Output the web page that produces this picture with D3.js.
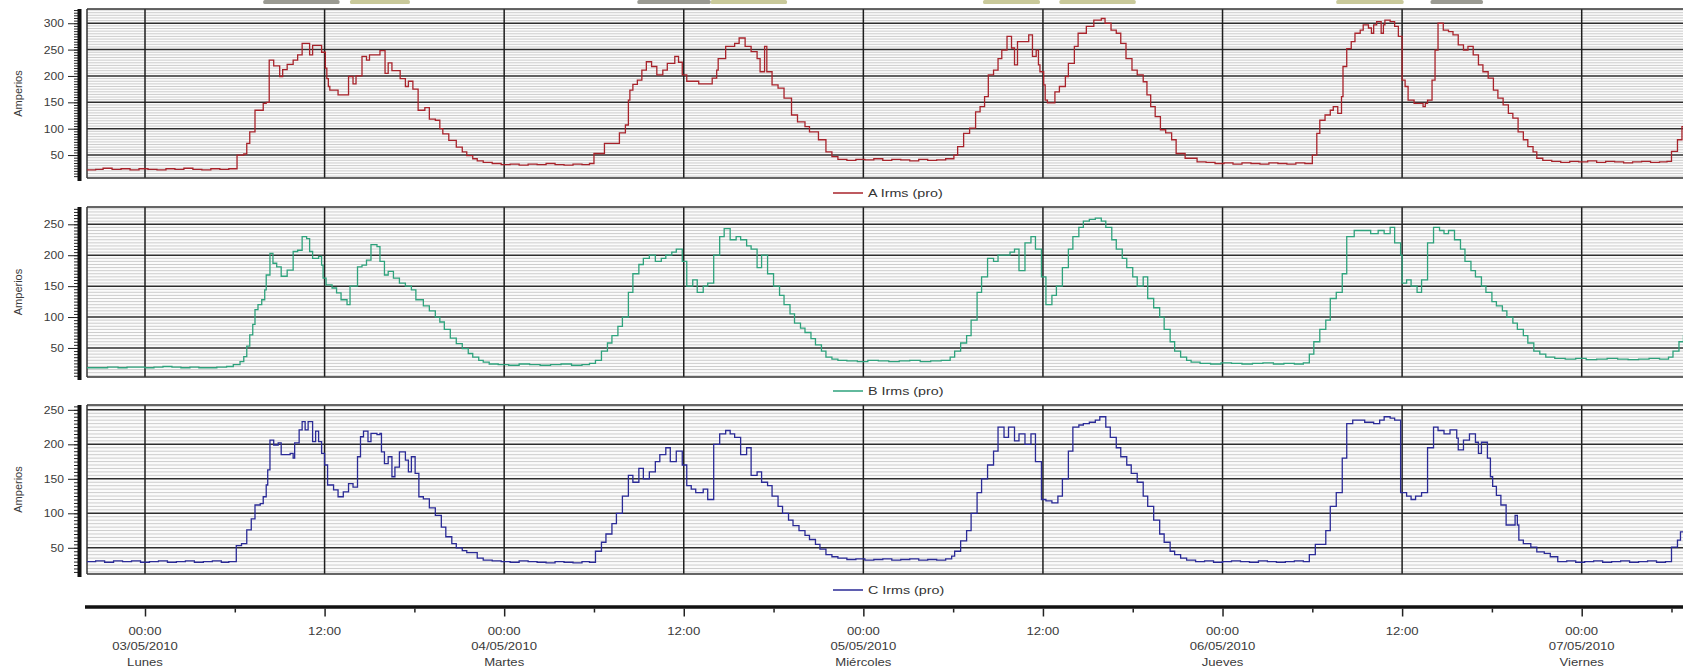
<!DOCTYPE html>
<html><head><meta charset="utf-8">
<script src="https://cdn.jsdelivr.net/npm/d3@7"></script>
<style>
body{margin:0;background:#fff;}
svg{display:block;}
text{font-family:"Liberation Sans",Arial,sans-serif;}
</style>
</head><body>
<svg id="chart" width="1683" height="672"></svg>
<script>
// ---------- DATA (hours from 03/05/2010 00:00, amperes) ----------
const seriesNames = ["A Irms (pro)", "B Irms (pro)", "C Irms (pro)"];
const dayDates = ["03/05/2010","04/05/2010","05/05/2010","06/05/2010","07/05/2010"];
const dayNames = ["Lunes","Martes","Miércoles","Jueves","Viernes"];
const midnightLabel = "00:00";
const middayLabel = "12:00";
const yTicksA = [50,100,150,200,250,300];
const yTicksB = [50,100,150,200,250];
const yTicksC = [50,100,150,200,250];
const yLabel = "Amperios";

const serieA = [[-3.9,22],[-3.3,23],[-2.8,25],[-2.2,23],[-1.6,24],[-1.0,22],[-0.4,24],[0.2,23],[0.8,22],[1.4,24],[2.0,23],[2.6,25],[3.2,23],[3.8,22],[4.4,24],[5.0,23],[5.6,24],
[6.15,50],[6.6,52],[6.8,72],[7.0,94],[7.35,135],[7.9,148],[8.1,150],[8.3,230],[8.6,219],[9.0,199],[9.2,212],[9.5,222],[9.9,230],[10.2,240],[10.5,262],[11.0,240],[11.2,258],[11.8,245],[12.05,215],[12.15,195],[12.25,180],[12.35,173],[12.9,164],[13.6,199],[13.9,185],[14.1,200],[14.5,237],[14.8,230],[15.0,240],[15.7,248],[16.04,205],[16.25,225],[16.5,210],[17.05,195],[17.4,180],[17.6,190],[17.9,175],[18.25,135],[18.7,140],[19.0,118],[19.4,116],[19.7,100],[19.9,90],[20.3,78],[20.8,65],[21.2,56],[21.5,49],[21.9,43],[22.2,39],[22.6,36],
[23.2,34],[23.8,32],[24.4,33],[25.0,31],[25.6,33],[26.2,32],[26.8,34],[27.4,32],[28.0,31],[28.6,33],[29.2,32],[29.7,34],
[30.0,53],[30.7,72],[31.7,92],[32.1,107],[32.3,154],[32.4,173],[32.6,184],[32.9,192],[33.2,211],[33.5,227],[33.85,218],[34.2,202],[34.6,211],[34.9,224],[35.4,237],[35.65,226],[35.9,202],[36.2,190],[37.0,185],[37.9,196],[38.2,211],[38.3,233],[38.8,256],[39.4,262],[39.7,272],[40.1,256],[40.5,246],[40.9,233],[41.1,208],[41.4,256],[41.55,208],[41.9,183],[42.3,177],[42.7,158],[43.2,126],[43.6,113],[44.1,104],[44.4,94],[45.0,79],[45.5,56],[45.9,47],
[46.3,42],[46.9,40],[47.5,42],[48.1,41],[48.7,43],[49.3,40],[49.9,42],[50.5,41],[51.1,39],[51.7,42],[52.3,40],[52.9,41],[53.5,43],
[54.05,50],[54.3,66],[54.7,91],[55.1,101],[55.5,132],[55.8,142],[56.1,161],[56.35,202],[56.7,211],[57.0,233],[57.25,249],[57.6,275],[57.9,253],[58.1,221],[58.3,265],[58.8,265],[59.05,278],[59.3,237],[59.55,249],[59.7,221],[59.8,208],[60.05,183],[60.15,154],[60.3,149],[60.8,170],[61.1,180],[61.5,199],[61.7,224],[62.1,256],[62.35,281],[62.9,294],[63.4,306],[63.9,309],[64.15,300],[64.55,287],[64.9,281],[65.2,262],[65.55,233],[65.95,211],[66.3,202],[66.7,189],[66.95,164],[67.2,142],[67.5,123],[67.85,98],[68.2,92],[68.6,79],[68.9,53],[69.5,44],[70.3,37],
[70.9,36],[71.5,34],[72.1,35],[72.7,33],[73.3,35],[73.9,34],[74.5,33],[75.1,35],[75.7,34],[76.3,33],[76.9,35],[77.5,34],
[78.0,50],[78.3,91],[78.5,116],[78.85,126],[79.2,135],[79.4,142],[79.7,129],[79.95,161],[80.05,218],[80.3,252],[80.6,265],[80.85,281],[81.2,287],[81.4,297],[81.75,291],[81.95,281],[82.1,297],[82.3,303],[82.6,281],[82.75,297],[82.85,306],[83.2,303],[83.5,294],[83.75,275],[84.0,192],[84.2,180],[84.4,154],[84.8,148],[85.4,142],[85.55,148],[85.7,154],[86.0,192],[86.2,249],[86.4,300],[86.75,287],[87.1,284],[87.4,278],[87.75,259],[88.1,249],[88.4,256],[88.75,240],[89.1,221],[89.4,208],[89.75,196],[90.1,173],[90.4,158],[90.75,145],[91.1,129],[91.4,120],[91.75,94],[92.1,79],[92.4,66],[92.75,56],[93.0,44],[93.4,40],
[94.0,38],[94.6,36],[95.2,38],[95.8,37],[96.4,39],[97.0,36],[97.6,38],[98.2,37],[98.8,35],[99.4,37],[100.0,38],[100.6,36],[101.2,37],[101.7,38],
[102.0,57],[102.4,79],[102.7,104],[103.2,110]];

const serieB = [[-3.9,18],[-3.2,18],[-2.5,19],[-1.8,18],[-1.2,19],[-0.6,19],[0.0,18],[0.6,19],[1.2,20],[1.8,19],[2.4,18],[3.0,19],[3.6,18],[4.2,18],[4.8,19],
[5.45,20],[5.9,23],[6.35,28],[6.6,36],[6.8,53],[7.0,71],[7.2,88],[7.35,112],[7.55,120],[7.8,128],[8.0,144],[8.1,168],[8.35,203],[8.55,187],[8.8,181],[9.1,166],[9.5,176],[9.9,206],[10.2,208],[10.5,230],[10.8,227],[11.0,206],[11.2,195],[11.6,198],[11.8,184],[11.9,163],[12.1,152],[12.5,147],[12.8,139],[13.1,128],[13.5,120],[13.7,150],[14.2,181],[14.5,184],[14.8,192],[15.1,217],[15.5,214],[15.7,190],[16.0,168],[16.25,174],[16.6,163],[17.0,155],[17.4,150],[17.8,144],[18.1,128],[18.6,118],[19.0,110],[19.4,100],[19.7,92],[20.0,80],[20.4,66],[20.8,57],[21.2,49],[21.6,41],[21.9,35],[22.3,30],[22.6,27],[23.0,24],
[23.6,23],[24.3,22],[25.0,24],[25.7,23],[26.4,22],[27.1,23],[27.8,24],[28.5,22],[29.2,23],[29.7,25],
[30.1,30],[30.5,45],[30.9,58],[31.2,70],[31.6,85],[31.9,100],[32.3,140],[32.6,170],[33.0,185],[33.3,195],[33.7,200],[34.1,190],[34.5,195],[34.8,200],[35.2,205],[35.5,210],[35.9,190],[36.2,150],[36.6,160],[36.9,140],[37.3,150],[37.6,155],[38.0,200],[38.4,230],[38.7,243],[39.1,225],[39.5,230],[39.8,225],[40.2,215],[40.5,210],[40.9,180],[41.2,200],[41.6,170],[42.0,150],[42.4,135],[42.7,120],[43.1,105],[43.4,90],[43.8,82],[44.1,75],[44.5,65],[44.8,55],[45.2,45],[45.5,35],[45.9,32],[46.3,30],
[46.9,29],[47.6,28],[48.3,30],[49.0,29],[49.7,28],[50.4,29],[51.1,30],[51.8,28],[52.5,29],[53.2,30],
[53.8,35],[54.1,45],[54.5,58],[54.9,70],[55.2,95],[55.6,140],[55.9,165],[56.3,195],[56.7,190],[57.0,200],[57.4,200],[57.8,205],[58.1,210],[58.4,175],[58.8,220],[59.2,230],[59.5,210],[59.9,165],[60.2,120],[60.6,135],[60.9,150],[61.3,180],[61.7,210],[62.0,230],[62.4,245],[62.7,255],[63.1,258],[63.5,260],[63.9,255],[64.2,245],[64.6,225],[64.9,210],[65.3,195],[65.6,180],[66.0,165],[66.3,150],[66.7,165],[67.0,130],[67.4,115],[67.8,100],[68.1,80],[68.5,60],[68.8,45],[69.2,35],[69.6,30],[69.9,27],
[70.5,25],[71.2,24],[71.9,26],[72.6,25],[73.3,24],[74.0,25],[74.7,26],[75.4,24],[76.1,25],[76.8,24],[77.4,26],
[77.8,40],[78.1,60],[78.5,80],[78.9,95],[79.2,130],[79.6,140],[80.0,170],[80.3,230],[80.8,240],[81.4,240],[81.9,235],[82.4,240],[82.8,235],[83.2,245],[83.5,220],[83.9,200],[84.0,155],[84.3,160],[84.6,150],[85.0,140],[85.3,160],[85.7,220],[86.1,245],[86.5,240],[86.8,235],[87.1,240],[87.5,225],[87.9,210],[88.2,190],[88.6,175],[88.9,165],[89.3,150],[89.6,140],[90.0,125],[90.3,118],[90.7,110],[91.0,100],[91.4,90],[91.7,80],[92.1,70],[92.4,58],[92.8,45],[93.2,40],[93.6,35],
[94.2,33],[94.9,32],[95.6,33],[96.3,31],[97.0,32],[97.7,33],[98.4,32],[99.1,31],[99.8,32],[100.5,33],[101.2,32],[101.8,35],[102.1,45],[102.5,60],[102.8,70],[103.2,75]];

const serieC = [[-3.9,30],[-3.3,31],[-2.7,29],[-2.1,31],[-1.5,30],[-0.9,31],[-0.3,29],[0.3,30],[0.9,31],[1.5,29],[2.1,30],[2.7,31],[3.3,29],[3.9,30],[4.5,31],[5.1,29],[5.6,30],
[6.1,53],[6.45,56],[6.8,76],[7.1,92],[7.35,112],[7.7,114],[7.9,124],[8.1,141],[8.2,163],[8.35,206],[8.6,199],[8.9,202],[9.1,185],[9.7,187],[9.9,180],[10.0,202],[10.3,221],[10.5,233],[10.7,221],[10.9,233],[11.2,204],[11.4,219],[11.6,204],[11.8,187],[12.0,170],[12.2,141],[12.6,134],[12.9,124],[13.25,131],[13.6,143],[13.9,138],[14.2,182],[14.4,211],[14.6,219],[14.9,204],[15.1,216],[15.5,214],[15.7,216],[15.8,189],[16.0,172],[16.25,182],[16.5,153],[16.7,167],[17.0,189],[17.4,177],[17.6,160],[17.8,182],[18.05,158],[18.3,124],[18.6,121],[19.0,108],[19.4,97],[19.8,80],[20.1,66],[20.5,56],[20.8,50],[21.2,46],[21.5,43],[22.2,35],[22.6,32],
[23.2,31],[23.8,30],[24.4,29],[25.0,31],[25.6,30],[26.2,29],[26.8,28],[27.4,30],[28.0,29],[28.6,28],[29.2,30],[29.7,29],
[30.1,45],[30.5,58],[30.8,70],[31.2,85],[31.5,100],[31.9,125],[32.3,155],[32.6,145],[33.0,165],[33.3,150],[33.7,160],[34.1,175],[34.4,185],[34.8,195],[35.1,175],[35.5,190],[35.9,170],[36.2,140],[36.5,135],[36.8,130],[37.3,135],[37.6,120],[38.0,200],[38.4,215],[38.8,220],[39.1,215],[39.4,210],[39.8,185],[40.2,195],[40.5,155],[40.9,160],[41.2,145],[41.6,140],[41.9,125],[42.3,110],[42.6,100],[43.0,90],[43.3,82],[43.7,75],[44.1,68],[44.4,62],[44.8,55],[45.1,48],[45.5,40],[45.9,37],[46.3,35],
[46.9,33],[47.5,34],[48.1,32],[48.7,33],[49.3,34],[49.9,32],[50.5,33],[51.1,34],[51.7,32],[52.3,33],[52.9,32],[53.5,34],
[53.9,38],[54.1,45],[54.5,60],[54.9,75],[55.2,100],[55.6,130],[55.9,150],[56.3,170],[56.7,190],[57.0,225],[57.4,210],[57.7,225],[58.1,205],[58.4,215],[58.8,200],[59.2,215],[59.5,175],[59.9,120],[60.2,118],[60.6,115],[61.0,125],[61.3,150],[61.7,190],[62.0,225],[62.4,228],[62.7,230],[63.1,232],[63.5,235],[63.8,240],[64.2,225],[64.5,210],[64.9,195],[65.2,182],[65.6,170],[65.9,158],[66.3,145],[66.7,125],[67.0,110],[67.4,90],[67.8,70],[68.1,58],[68.5,45],[68.8,40],[69.2,35],[69.6,32],
[70.2,30],[70.8,31],[71.4,29],[72.0,30],[72.6,31],[73.2,30],[73.8,29],[74.4,31],[75.0,30],[75.6,29],[76.2,30],[76.8,31],[77.4,30],
[77.8,40],[78.2,55],[78.9,75],[79.2,110],[79.6,130],[80.0,180],[80.3,230],[80.7,235],[81.0,235],[81.5,232],[82.1,230],[82.5,235],[82.8,240],[83.2,238],[83.5,235],[83.9,130],[84.3,125],[84.6,120],[84.9,125],[85.3,130],[85.7,195],[86.1,225],[86.4,220],[86.8,215],[87.2,221],[87.65,209],[87.75,192],[88.1,206],[88.5,215],[88.9,203],[89.1,187],[89.3,203],[89.7,180],[89.9,153],[90.05,139],[90.3,126],[90.6,112],[90.95,83],[91.55,97],[91.7,83],[91.8,61],[92.1,56],[92.6,51],[93.0,44],[93.5,42],[93.9,37],[94.4,30],
[95.0,31],[95.6,29],[96.2,30],[96.8,31],[97.4,29],[98.0,30],[98.6,31],[99.2,29],[99.8,30],[100.4,31],[101.0,29],[101.6,30],[102.0,51],[102.4,61],[102.6,73],[103.2,80]];

// cut-off annotation boxes at the very top (hour ranges, kind)
const topMarks = [[7.9,13.0,"g"],[13.7,17.7,"y"],[32.9,37.8,"g"],[37.8,42.9,"y"],[56.0,59.8,"y"],[61.1,66.2,"y"],[79.6,84.1,"y"],[85.9,89.4,"g"]];

// ---------- LAYOUT ----------
const W = 1683, H = 672;
const svg = d3.select("#chart");
const t0 = Date.UTC(2010,4,3,0,0);
const toDate = h => new Date(t0 + h*3600e3);
const x = d3.scaleUtc().domain([toDate(0), toDate(96)]).range([145, 1581.7]);
const plotL = 87, plotR = 1700;

const panels = [
  {data: serieA, name: seriesNames[0], color: "#a8232b", top: 9,   bottom: 178, dom: [6.5, 327], ticks: yTicksA, legY: 193},
  {data: serieB, name: seriesNames[1], color: "#2ea27c", top: 207, bottom: 377, dom: [3, 278],   ticks: yTicksB, legY: 391},
  {data: serieC, name: seriesNames[2], color: "#2a2a96", top: 405, bottom: 574, dom: [12, 257],  ticks: yTicksC, legY: 590}
];

function stretch(sel, f){
  sel.each(function(){
    const w = this.getComputedTextLength();
    this.setAttribute("textLength", (w*f).toFixed(1));
    this.setAttribute("lengthAdjust", "spacingAndGlyphs");
  });
}

const defs = svg.append("defs");

// top cut-off marks
svg.append("g").selectAll("rect").data(topMarks).join("rect")
  .attr("x", d => x(toDate(d[0]))).attr("width", d => x(toDate(d[1])) - x(toDate(d[0])))
  .attr("y", 0).attr("height", 4).attr("rx", 1.5)
  .attr("fill", d => d[2] === "g" ? "#9a9a92" : "#c9c99a");

const twelveH = d3.range(0, 97, 12).map(toDate).concat([toDate(108)]);

panels.forEach((p, i) => {
  const y = d3.scaleLinear().domain(p.dom).range([p.bottom, p.top]);
  const g = svg.append("g");
  const id = "clip" + i;
  defs.append("clipPath").attr("id", id).append("rect")
    .attr("x", plotL).attr("y", p.top).attr("width", plotR - plotL).attr("height", p.bottom - p.top);

  g.append("rect").attr("x", plotL).attr("y", p.top).attr("width", plotR - plotL).attr("height", p.bottom - p.top)
    .attr("fill", "#fbfbfb");

  const minor = d3.range(Math.ceil(p.dom[0]/5)*5, p.dom[1], 5);
  g.append("g").selectAll("line").data(minor.filter(v => v % 50 !== 0)).join("line")
    .attr("x1", plotL).attr("x2", plotR).attr("y1", d => y(d)).attr("y2", d => y(d))
    .attr("stroke", "#cdcdcd").attr("stroke-width", 1);
  g.append("g").selectAll("line").data(p.ticks).join("line")
    .attr("x1", plotL).attr("x2", plotR).attr("y1", d => y(d)).attr("y2", d => y(d))
    .attr("stroke", "#2e2e2e").attr("stroke-width", 1.5);
  g.append("g").selectAll("line").data(twelveH).join("line")
    .attr("x1", d => x(d)).attr("x2", d => x(d)).attr("y1", p.top).attr("y2", p.bottom)
    .attr("stroke", "#1e1e1e").attr("stroke-width", 1.5);
  // frame
  g.append("line").attr("x1", plotL).attr("x2", plotR).attr("y1", p.top).attr("y2", p.top).attr("stroke", "#333").attr("stroke-width", 1.5);
  g.append("line").attr("x1", plotL).attr("x2", plotR).attr("y1", p.bottom).attr("y2", p.bottom).attr("stroke", "#333").attr("stroke-width", 1.5);
  g.append("line").attr("x1", plotL).attr("x2", plotL).attr("y1", p.top).attr("y2", p.bottom).attr("stroke", "#333").attr("stroke-width", 1.5);

  // series
  const line = d3.line().x(d => x(toDate(d[0]))).y(d => y(d[1])).curve(d3.curveStepAfter);
  g.append("path").datum(p.data).attr("clip-path", `url(#${id})`)
    .attr("d", line).attr("fill", "none").attr("stroke", p.color).attr("stroke-width", 1.3);

  // y axis
  const axX = 80;
  const minorAx = svg.append("g").attr("transform", `translate(${axX},0)`)
    .call(d3.axisLeft(y).tickValues(minor).tickSize(6).tickFormat(""));
  minorAx.select(".domain").remove();
  minorAx.selectAll(".tick line").attr("stroke", "#222");
  const majorAx = svg.append("g").attr("transform", `translate(${axX},0)`)
    .call(d3.axisLeft(y).tickValues(p.ticks).tickSize(12).tickPadding(4));
  majorAx.select(".domain").remove();
  majorAx.selectAll(".tick line").attr("stroke", "#222");
  majorAx.selectAll(".tick text").attr("font-size", 11).attr("fill", "#3a3a3a")
    .attr("font-family", '"Liberation Sans", Arial, sans-serif').call(stretch, 1.1);
  svg.append("rect").attr("x", axX - 2.5).attr("y", p.top).attr("width", 4).attr("height", p.bottom - p.top + 3).attr("fill", "#111");

  svg.append("text").attr("transform", `translate(22,${(p.top + p.bottom)/2}) rotate(-90)`)
    .attr("text-anchor", "middle").attr("font-size", 11).attr("fill", "#3a3a3a").text(yLabel);

  // legend
  svg.append("line").attr("x1", 833).attr("x2", 863).attr("y1", p.legY).attr("y2", p.legY)
    .attr("stroke", p.color).attr("stroke-width", 1.5);
  svg.append("text").attr("x", 868).attr("y", p.legY).attr("dy", "0.35em")
    .attr("font-size", 11).attr("fill", "#333").text(p.name).call(stretch, 1.3);
});

// time axis
const axY = 607;
svg.append("line").attr("x1", 85).attr("x2", W).attr("y1", axY).attr("y2", axY)
  .attr("stroke", "#111").attr("stroke-width", 3.5);
const majorT = d3.range(0, 97, 12).map(toDate);
const minorT = d3.range(6, 103, 12).map(toDate);
const tA = svg.append("g").attr("transform", `translate(0,${axY + 1.5})`)
  .call(d3.axisBottom(x).tickValues(majorT).tickSize(8).tickFormat(""));
tA.select(".domain").remove();
tA.selectAll(".tick line").attr("stroke", "#222").attr("stroke-width", 1.5);
const tB = svg.append("g").attr("transform", `translate(0,${axY + 1.5})`)
  .call(d3.axisBottom(x).tickValues(minorT).tickSize(4).tickFormat(""));
tB.select(".domain").remove();
tB.selectAll(".tick line").attr("stroke", "#222").attr("stroke-width", 1.5);

const lab = svg.append("g").attr("font-size", 10.5).attr("fill", "#3a3a3a").attr("text-anchor", "middle");
dayDates.forEach((d, i) => {
  const cx = x(toDate(i*24));
  lab.append("text").attr("x", cx).attr("y", 635).text(midnightLabel).call(stretch, 1.25);
  lab.append("text").attr("x", cx).attr("y", 650).text(d).call(stretch, 1.25);
  lab.append("text").attr("x", cx).attr("y", 666).text(dayNames[i]).call(stretch, 1.25);
  if (i < 4) lab.append("text").attr("x", x(toDate(i*24 + 12))).attr("y", 635).text(middayLabel).call(stretch, 1.25);
});
</script>
</body></html>
